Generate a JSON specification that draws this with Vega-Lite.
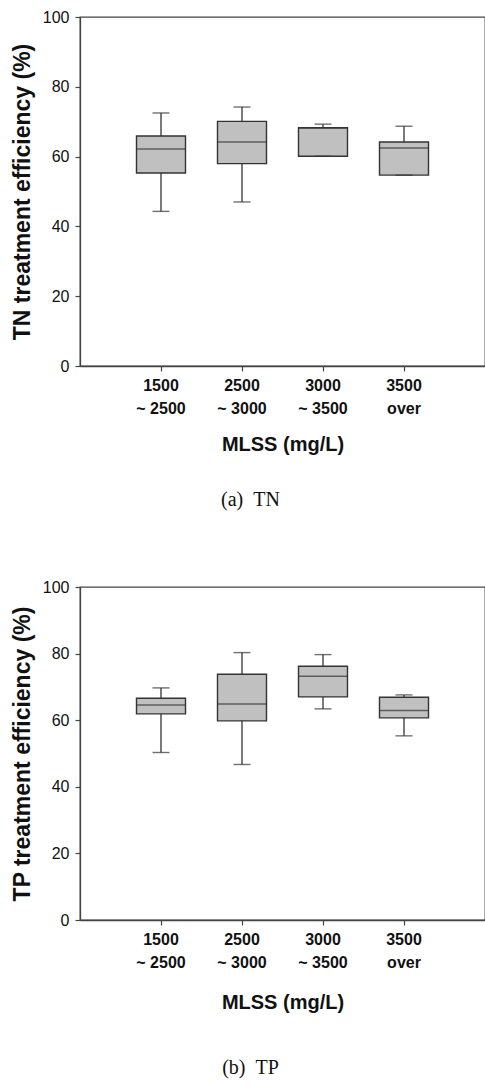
{
  "$schema": "https://vega.github.io/schema/vega-lite/v6.json",
  "padding": {"left": 10, "top": 8, "right": 0, "bottom": 0},
  "spacing": 67,
  "background": "white",
  "config": {
    "view": {"stroke": "#444", "strokeWidth": 1.3},
    "axis": {
      "grid": false,
      "domainColor": "#444",
      "domainWidth": 1.3,
      "tickColor": "#444",
      "tickWidth": 1.2,
      "tickSize": 5,
      "labelColor": "#111",
      "titleColor": "#111",
      "labelFont": "Liberation Sans",
      "titleFont": "Liberation Sans"
    },
    "title": {"font": "Liberation Serif", "fontWeight": "normal", "fontSize": 20, "color": "#111"}
  },
  "datasets": {
    "tn": [
      {"mlss": "1500\n~ 2500", "min": 44.3, "q1": 55.3, "median": 62.2, "q3": 65.9, "max": 72.5},
      {"mlss": "2500\n~ 3000", "min": 47.0, "q1": 58.0, "median": 64.2, "q3": 70.1, "max": 74.2},
      {"mlss": "3000\n~ 3500", "min": 60.1, "q1": 60.1, "median": 68.1, "q3": 68.3, "max": 69.3},
      {"mlss": "3500\nover", "min": 54.7, "q1": 54.7, "median": 62.5, "q3": 64.2, "max": 68.7}
    ],
    "tp": [
      {"mlss": "1500\n~ 2500", "min": 50.3, "q1": 61.9, "median": 64.6, "q3": 66.6, "max": 69.7},
      {"mlss": "2500\n~ 3000", "min": 46.7, "q1": 59.8, "median": 64.9, "q3": 73.8, "max": 80.3},
      {"mlss": "3000\n~ 3500", "min": 63.4, "q1": 67.0, "median": 73.2, "q3": 76.2, "max": 79.7},
      {"mlss": "3500\nover", "min": 55.3, "q1": 60.7, "median": 62.9, "q3": 66.9, "max": 67.6}
    ]
  },
  "vconcat": [
    {
      "width": 405,
      "height": 349,
      "data": {"name": "tn"},
      "title": {"text": "(a)\u00a0\u00a0TN", "orient": "bottom", "anchor": "middle", "dx": -32, "offset": 36},
      "encoding": {
        "x": {
          "field": "mlss", "type": "nominal", "sort": null,
          "scale": {"paddingInner": 0, "paddingOuter": 0.5},
          "axis": {
            "title": "MLSS (mg/L)", "titleFontSize": 20, "titleFontWeight": "bold", "titlePadding": 18,
            "labelAngle": 0, "labelFontSize": 16, "labelFontWeight": "bold", "labelPadding": 6,
            "labelLineHeight": 23, "labelExpr": "split(datum.label, '\\n')"
          }
        }
      },
      "layer": [
        {
          "mark": {"type": "rule", "color": "#333", "strokeWidth": 1.3},
          "encoding": {
            "y": {"field": "min", "type": "quantitative", "scale": {"domain": [0, 100], "nice": false},
              "axis": {"values": [0, 20, 40, 60, 80, 100], "title": "TN treatment efficiency (%)", "titleFontSize": 23, "titleFontWeight": "bold", "titlePadding": 8, "labelFontSize": 16, "labelPadding": 6}},
            "y2": {"field": "max"}
          }
        },
        {
          "mark": {"type": "bar", "size": 49, "fill": "#c0c0c0", "stroke": "#333", "strokeWidth": 1.4},
          "encoding": {"y": {"field": "q1", "type": "quantitative"}, "y2": {"field": "q3"}}
        },
        {
          "mark": {"type": "tick", "size": 49, "thickness": 1.5, "color": "#333"},
          "encoding": {"y": {"field": "median", "type": "quantitative"}}
        },
        {
          "mark": {"type": "tick", "size": 17, "thickness": 1.4, "color": "#333"},
          "encoding": {"y": {"field": "max", "type": "quantitative"}}
        },
        {
          "mark": {"type": "tick", "size": 17, "thickness": 1.4, "color": "#333"},
          "encoding": {"y": {"field": "min", "type": "quantitative"}}
        }
      ]
    },
    {
      "width": 405,
      "height": 333,
      "data": {"name": "tp"},
      "title": {"text": "(b)\u00a0\u00a0TP", "orient": "bottom", "anchor": "middle", "dx": -32, "offset": 46},
      "encoding": {
        "x": {
          "field": "mlss", "type": "nominal", "sort": null,
          "scale": {"paddingInner": 0, "paddingOuter": 0.5},
          "axis": {
            "title": "MLSS (mg/L)", "titleFontSize": 20, "titleFontWeight": "bold", "titlePadding": 22,
            "labelAngle": 0, "labelFontSize": 16, "labelFontWeight": "bold", "labelPadding": 6,
            "labelLineHeight": 23, "labelExpr": "split(datum.label, '\\n')"
          }
        }
      },
      "layer": [
        {
          "mark": {"type": "rule", "color": "#333", "strokeWidth": 1.3},
          "encoding": {
            "y": {"field": "min", "type": "quantitative", "scale": {"domain": [0, 100], "nice": false},
              "axis": {"values": [0, 20, 40, 60, 80, 100], "title": "TP treatment efficiency (%)", "titleFontSize": 23, "titleFontWeight": "bold", "titlePadding": 8, "labelFontSize": 16, "labelPadding": 6}},
            "y2": {"field": "max"}
          }
        },
        {
          "mark": {"type": "bar", "size": 49, "fill": "#c0c0c0", "stroke": "#333", "strokeWidth": 1.4},
          "encoding": {"y": {"field": "q1", "type": "quantitative"}, "y2": {"field": "q3"}}
        },
        {
          "mark": {"type": "tick", "size": 49, "thickness": 1.5, "color": "#333"},
          "encoding": {"y": {"field": "median", "type": "quantitative"}}
        },
        {
          "mark": {"type": "tick", "size": 17, "thickness": 1.4, "color": "#333"},
          "encoding": {"y": {"field": "max", "type": "quantitative"}}
        },
        {
          "mark": {"type": "tick", "size": 17, "thickness": 1.4, "color": "#333"},
          "encoding": {"y": {"field": "min", "type": "quantitative"}}
        }
      ]
    }
  ]
}
